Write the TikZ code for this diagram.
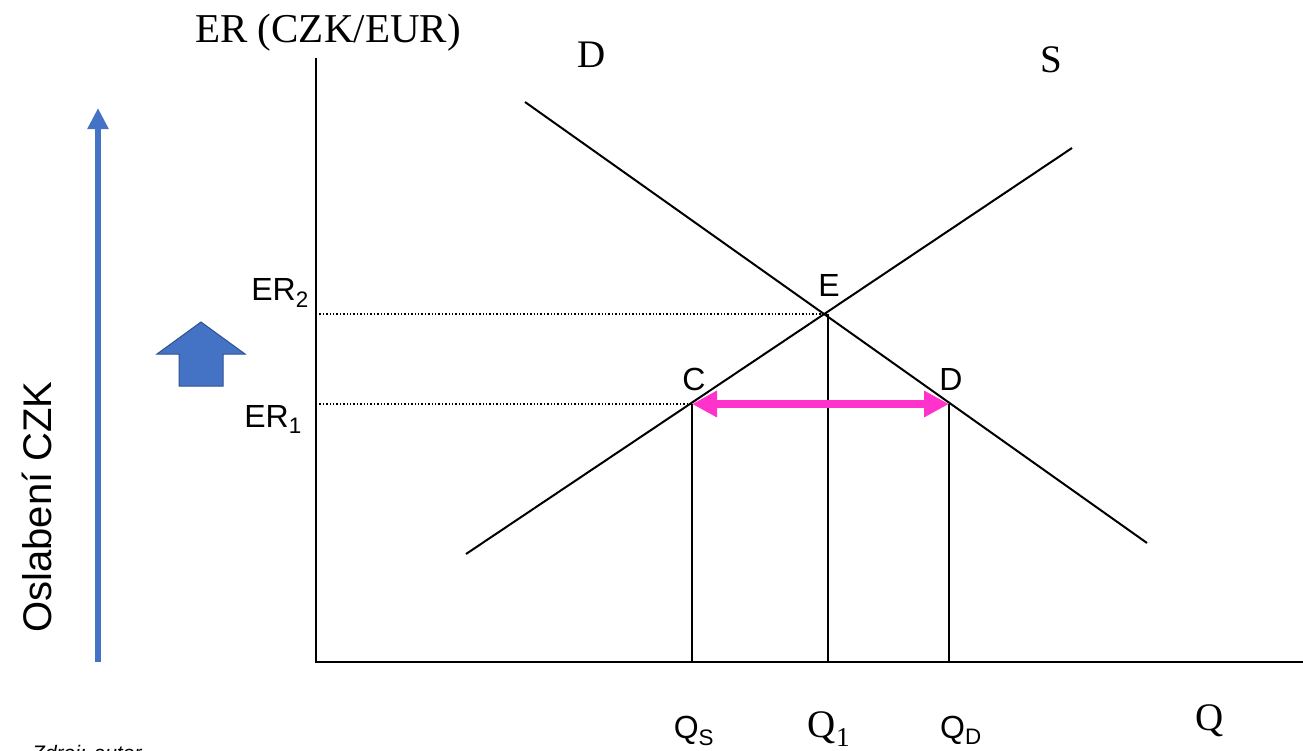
\documentclass[tikz,border=0pt]{standalone}
\usepackage{fontspec}
\setmainfont{Liberation Serif}
\setsansfont{Liberation Sans}
\usetikzlibrary{arrows.meta}
\definecolor{czkblue}{HTML}{4472C4}
\definecolor{czkedge}{HTML}{2F528F}
\definecolor{gapmag}{HTML}{FF33CC}

\begin{document}
\begin{tikzpicture}[x=1pt,y=-1pt,
  curve/.style={line width=2pt},
  guide/.style={line width=1.4pt,dotted},
  serlab/.style={font=\fontsize{39}{41}\selectfont,inner sep=0pt},
  sanlab/.style={font=\sffamily\fontsize{32}{34}\selectfont,inner sep=0pt}]
\useasboundingbox (0,0) rectangle (1303,750);
\clip (0,0) rectangle (1303,750);

% axes
\coordinate (O) at (316,662);
\coordinate (ytop) at (316,58);
\coordinate (xend) at (1303,662);
\draw[curve] (ytop) -- (O) -- (xend);

% demand and supply
\coordinate (d1) at (525,102);
\coordinate (d2) at (1147,543);
\coordinate (s1) at (466,554);
\coordinate (s2) at (1072,148);
\draw[curve] (d1) -- (d2);
\draw[curve] (s1) -- (s2);

% equilibrium and gap
\coordinate (ptE) at (828,314);
\coordinate (ptC) at (692,404);
\coordinate (ptD) at (949,404);
\coordinate (er2) at (316,314);
\coordinate (er1) at (316,404);
\coordinate (qS) at (692,662);
\coordinate (q1) at (828,662);
\coordinate (qD) at (949,662);
\draw[guide] (er2) -- (ptE);
\draw[guide] (er1) -- (ptC);
\draw[curve] (ptE) -- (q1);
\draw[curve] (ptC) -- (qS);
\draw[curve] (ptD) -- (qD);
\draw[gapmag,line width=8pt,{Triangle[length=25pt,width=25pt]}-{Triangle[length=25pt,width=25pt]}]
  (ptC) -- (ptD);

% labels
\node[serlab,anchor=base,font=\fontsize{41}{43}\selectfont] (ertitle) at (328,42) {ER (CZK/EUR)};
\node[serlab,anchor=base] (dlab) at (592,67) {D};
\node[serlab,anchor=base] (slab) at (1051,72) {S};
\node[serlab,anchor=base] (qlab) at (1210,730) {Q};
\node[sanlab,anchor=base] (elab) at (829,296) {E};
\node[sanlab,anchor=base] (clab) at (694,390) {C};
\node[sanlab,anchor=base] (dpt) at (951,390) {D};
\node[sanlab,anchor=base east] (er2lab) at (309,300) {ER\textsubscript{2}};
\node[sanlab,anchor=base east] (er1lab) at (302,427) {ER\textsubscript{1}};
\node[sanlab,anchor=base] (qslab) at (694,738) {Q\textsubscript{S}};
\node[serlab,anchor=base] (q1lab) at (829,737) {Q\textsubscript{1}};
\node[sanlab,anchor=base] (qdlab) at (961,738) {Q\textsubscript{D}};

% weakening of the crown
\coordinate (wbot) at (98,662);
\coordinate (wtop) at (98,108);
\draw[czkblue,line width=5.5pt,-{Triangle[length=21pt,width=20pt]}] (wbot) -- (wtop);
\node[font=\sffamily\fontsize{40}{42}\selectfont,rotate=90,inner sep=0pt] (oslab) at (37,507) {Oslabení CZK};
\filldraw[fill=czkblue,draw=czkedge,line width=1pt]
  (201,322) -- (245,354) -- (223,354) -- (223,386) -- (179,386) -- (179,354) -- (157,354) -- cycle;

\node[font=\sffamily\itshape\fontsize{21}{23}\selectfont,anchor=base west,inner sep=0pt] (src) at (32,760) {Zdroj: autor};
\end{tikzpicture}
\end{document}
